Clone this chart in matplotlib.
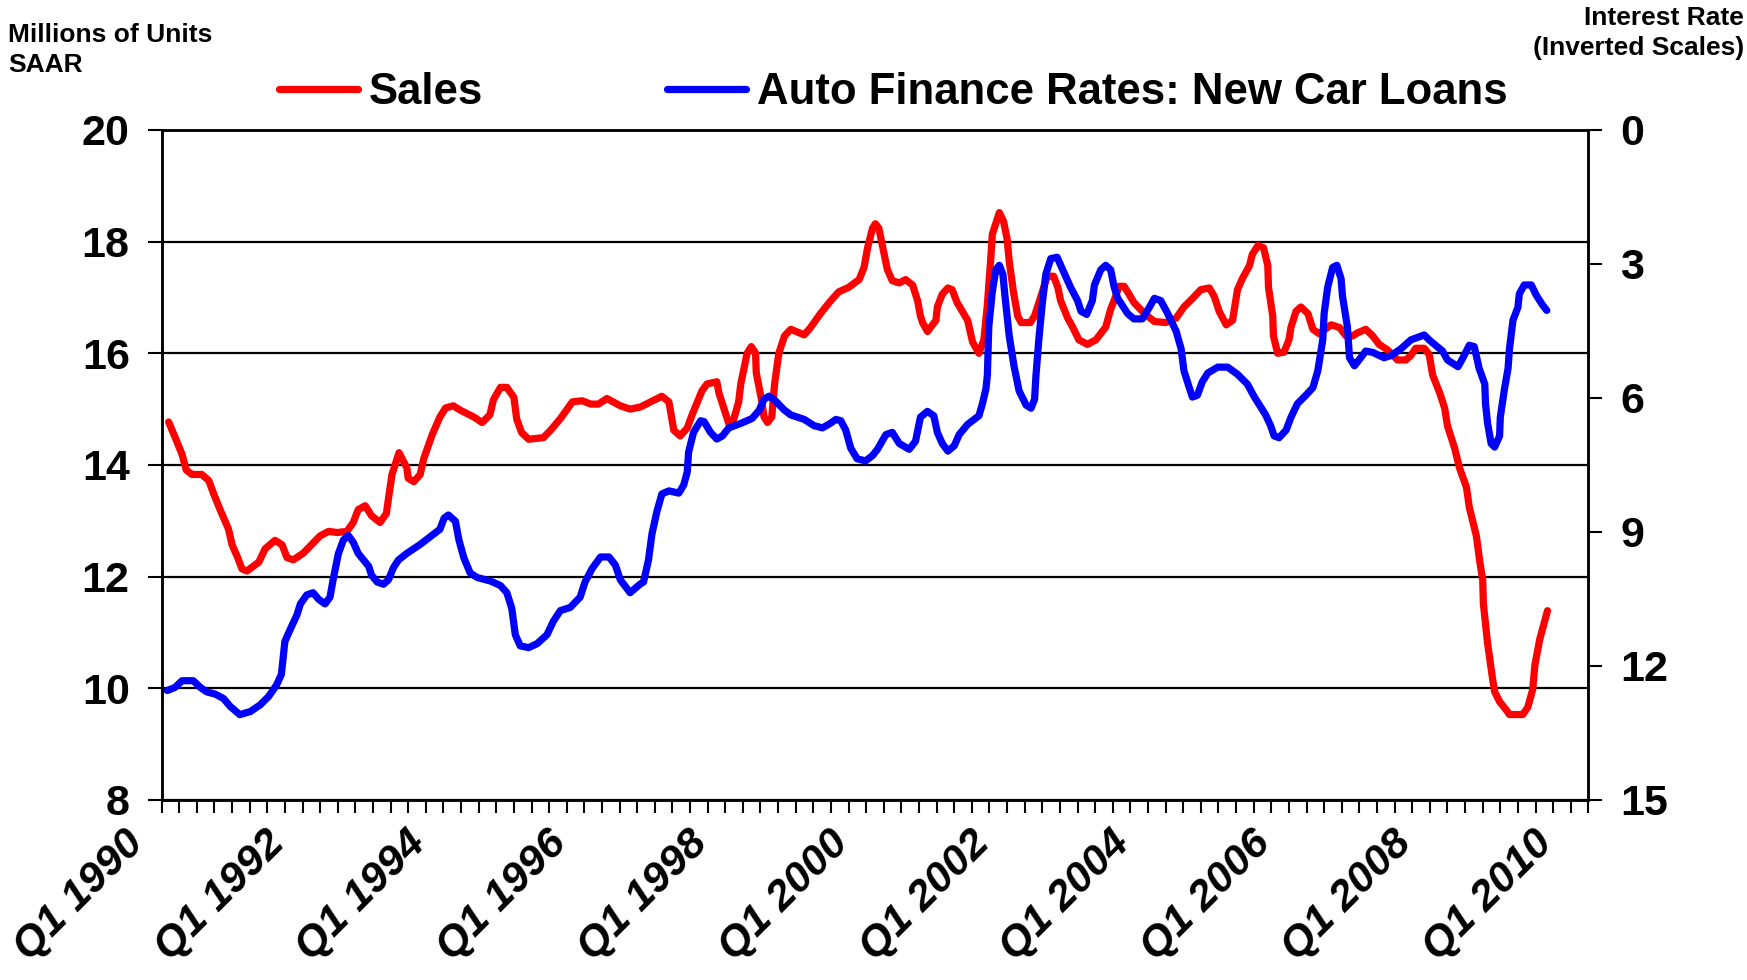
import matplotlib
matplotlib.use('Agg')
import matplotlib.pyplot as plt
import matplotlib.transforms as mtransforms
import numpy as np

plt.rcParams['font.family'] = ['Liberation Sans', 'DejaVu Sans']
plt.rcParams['font.weight'] = 'bold'

# ── Data ─────────────────────────────────────────────────────────────────────

# Light vehicle sales, millions of units SAAR (left scale)
sales_t = [
    1990.10, 1990.19, 1990.29, 1990.35, 1990.43, 1990.57, 1990.67, 1990.74, 1990.83, 1990.95,
    1991.00, 1991.08, 1991.14, 1991.21, 1991.38, 1991.47, 1991.61, 1991.71, 1991.78, 1991.87,
    1992.01, 1992.25, 1992.37, 1992.49, 1992.63, 1992.72, 1992.79, 1992.89, 1992.98, 1993.10,
    1993.19, 1993.22, 1993.27, 1993.37, 1993.48, 1993.50, 1993.58, 1993.67, 1993.72, 1993.84,
    1993.95, 1994.03, 1994.14, 1994.24, 1994.43, 1994.55, 1994.66, 1994.71, 1994.81, 1994.90,
    1995.00, 1995.04, 1995.11, 1995.21, 1995.42, 1995.52, 1995.66, 1995.83, 1995.97, 1996.09,
    1996.20, 1996.32, 1996.51, 1996.65, 1996.80, 1996.94, 1997.10, 1997.20, 1997.27, 1997.36,
    1997.46, 1997.53, 1997.67, 1997.74, 1997.88, 1997.91, 1998.03, 1998.05, 1998.12, 1998.19,
    1998.22, 1998.31, 1998.37, 1998.43, 1998.44, 1998.52, 1998.55, 1998.60, 1998.66, 1998.70,
    1998.76, 1998.84, 1998.93, 1999.12, 1999.21, 1999.35, 1999.49, 1999.61, 1999.75, 1999.90,
    1999.97, 2000.02, 2000.09, 2000.13, 2000.18, 2000.25, 2000.30, 2000.37, 2000.47, 2000.56,
    2000.66, 2000.73, 2000.77, 2000.80, 2000.87, 2000.99, 2001.01, 2001.08, 2001.16, 2001.22,
    2001.29, 2001.44, 2001.51, 2001.60, 2001.67, 2001.72, 2001.77, 2001.79, 2001.89, 2001.95,
    2002.00, 2002.03, 2002.09, 2002.15, 2002.20, 2002.33, 2002.39, 2002.48, 2002.57, 2002.66,
    2002.72, 2002.76, 2002.86, 2002.93, 2003.02, 2003.14, 2003.26, 2003.40, 2003.47, 2003.52,
    2003.59, 2003.66, 2003.73, 2003.80, 2003.95, 2004.09, 2004.25, 2004.40, 2004.51, 2004.63,
    2004.75, 2004.87, 2004.94, 2005.01, 2005.11, 2005.20, 2005.27, 2005.34, 2005.44, 2005.48,
    2005.56, 2005.64, 2005.70, 2005.71, 2005.77, 2005.78, 2005.84, 2005.93, 2006.00, 2006.03,
    2006.10, 2006.17, 2006.27, 2006.34, 2006.43, 2006.60, 2006.72, 2006.81, 2006.90, 2006.98,
    2007.09, 2007.19, 2007.28, 2007.40, 2007.54, 2007.66, 2007.73, 2007.80, 2007.92, 2007.99,
    2008.04, 2008.14, 2008.21, 2008.25, 2008.35, 2008.42, 2008.52, 2008.56, 2008.66, 2008.71,
    2008.75, 2008.76, 2008.82, 2008.89, 2008.92, 2008.99, 2009.08, 2009.13, 2009.32, 2009.39,
    2009.46, 2009.49, 2009.56, 2009.67,
]
sales_val = [
    14.77, 14.50, 14.19, 13.91, 13.83, 13.83, 13.72, 13.48, 13.20, 12.85,
    12.57, 12.34, 12.14, 12.10, 12.26, 12.50, 12.65, 12.57, 12.34, 12.30,
    12.42, 12.73, 12.81, 12.79, 12.81, 12.97, 13.20, 13.27, 13.09, 12.97,
    13.13, 13.40, 13.83, 14.22, 13.95, 13.76, 13.70, 13.83, 14.11, 14.54,
    14.86, 15.02, 15.06, 14.98, 14.86, 14.76, 14.90, 15.17, 15.39, 15.39,
    15.21, 14.82, 14.58, 14.46, 14.49, 14.62, 14.83, 15.13, 15.15, 15.09,
    15.09, 15.19, 15.06, 15.00, 15.04, 15.13, 15.23, 15.13, 14.62, 14.52,
    14.66, 14.90, 15.33, 15.45, 15.49, 15.29, 14.82, 14.74, 14.82, 15.13,
    15.45, 16.00, 16.12, 16.00, 15.65, 15.13, 14.86, 14.76, 14.86, 15.45,
    16.00, 16.31, 16.43, 16.33, 16.46, 16.71, 16.93, 17.10, 17.18, 17.32,
    17.54, 17.89, 18.24, 18.32, 18.24, 17.81, 17.50, 17.30, 17.26, 17.32,
    17.22, 16.94, 16.67, 16.55, 16.39, 16.59, 16.83, 17.06, 17.17, 17.14,
    16.91, 16.59, 16.20, 16.00, 16.24, 16.87, 17.73, 18.13, 18.52, 18.36,
    18.05, 17.65, 17.10, 16.67, 16.55, 16.55, 16.67, 17.02, 17.38, 17.38,
    17.18, 16.94, 16.63, 16.47, 16.24, 16.16, 16.24, 16.47, 16.79, 16.95,
    17.20, 17.20, 17.06, 16.91, 16.71, 16.57, 16.55, 16.63, 16.83, 16.98,
    17.14, 17.17, 17.02, 16.75, 16.51, 16.59, 17.14, 17.34, 17.57, 17.77,
    17.93, 17.89, 17.57, 17.18, 16.67, 16.31, 16.00, 16.02, 16.24, 16.47,
    16.75, 16.83, 16.71, 16.43, 16.35, 16.51, 16.46, 16.31, 16.31, 16.37,
    16.43, 16.31, 16.16, 16.06, 15.88, 15.88, 15.96, 16.09, 16.09, 15.98,
    15.61, 15.29, 15.02, 14.70, 14.31, 13.95, 13.60, 13.24, 12.73, 12.26,
    11.94, 11.51, 10.80, 10.17, 9.94, 9.76, 9.62, 9.53, 9.53, 9.66,
    9.98, 10.41, 10.88, 11.39,
]

# Auto finance rate on new car loans, % (right scale, inverted)
rate_t = [
    1990.08, 1990.19, 1990.29, 1990.45, 1990.55, 1990.64, 1990.76, 1990.88, 1990.97, 1991.11,
    1991.26, 1991.40, 1991.52, 1991.63, 1991.70, 1991.75, 1991.82, 1991.92, 1991.97, 1992.06,
    1992.15, 1992.23, 1992.32, 1992.39, 1992.44, 1992.51, 1992.58, 1992.65, 1992.72, 1992.79,
    1992.94, 1992.98, 1993.06, 1993.15, 1993.22, 1993.29, 1993.36, 1993.48, 1993.67, 1993.91,
    1993.95, 1994.01, 1994.07, 1994.17, 1994.22, 1994.29, 1994.38, 1994.48, 1994.67, 1994.81,
    1994.90, 1994.97, 1995.02, 1995.09, 1995.21, 1995.33, 1995.47, 1995.56, 1995.66, 1995.80,
    1995.94, 1996.01, 1996.11, 1996.23, 1996.35, 1996.44, 1996.51, 1996.65, 1996.79, 1996.84,
    1996.91, 1996.96, 1997.03, 1997.10, 1997.20, 1997.34, 1997.41, 1997.46, 1997.48, 1997.55,
    1997.65, 1997.70, 1997.79, 1997.88, 1997.96, 1998.05, 1998.22, 1998.38, 1998.48, 1998.55,
    1998.62, 1998.71, 1998.83, 1998.93, 1999.12, 1999.26, 1999.38, 1999.49, 1999.57, 1999.64,
    1999.71, 1999.78, 1999.87, 1999.99, 2000.09, 2000.16, 2000.28, 2000.37, 2000.47, 2000.61,
    2000.70, 2000.77, 2000.87, 2000.96, 2001.01, 2001.08, 2001.16, 2001.25, 2001.32, 2001.44,
    2001.60, 2001.65, 2001.70, 2001.72, 2001.74, 2001.79, 2001.84, 2001.89, 2001.94, 2001.97,
    2002.03, 2002.10, 2002.17, 2002.27, 2002.34, 2002.39, 2002.41, 2002.45, 2002.50, 2002.55,
    2002.62, 2002.71, 2002.79, 2002.90, 2003.00, 2003.05, 2003.13, 2003.21, 2003.24, 2003.33,
    2003.40, 2003.47, 2003.52, 2003.57, 2003.71, 2003.80, 2003.92, 2004.02, 2004.09, 2004.18,
    2004.28, 2004.40, 2004.47, 2004.51, 2004.58, 2004.63, 2004.70, 2004.77, 2004.85, 2004.99,
    2005.13, 2005.27, 2005.41, 2005.51, 2005.67, 2005.74, 2005.79, 2005.86, 2005.96, 2006.03,
    2006.12, 2006.24, 2006.34, 2006.41, 2006.48, 2006.50, 2006.55, 2006.62, 2006.68, 2006.74,
    2006.76, 2006.83, 2006.86, 2006.93, 2006.98, 2007.09, 2007.19, 2007.35, 2007.45, 2007.59,
    2007.73, 2007.92, 2007.99, 2008.18, 2008.25, 2008.40, 2008.47, 2008.56, 2008.63, 2008.70,
    2008.78, 2008.79, 2008.82, 2008.87, 2008.92, 2008.99, 2009.00, 2009.06, 2009.11, 2009.13,
    2009.18, 2009.25, 2009.27, 2009.34, 2009.44, 2009.51, 2009.60, 2009.66,
]
rate_val = [
    12.55, 12.48, 12.33, 12.33, 12.48, 12.58, 12.63, 12.73, 12.90, 13.09,
    13.02, 12.87, 12.68, 12.43, 12.19, 11.45, 11.20, 10.86, 10.61, 10.41,
    10.36, 10.51, 10.61, 10.46, 10.02, 9.48, 9.18, 9.08, 9.23, 9.48,
    9.77, 9.97, 10.12, 10.17, 10.07, 9.80, 9.63, 9.48, 9.28, 8.99,
    8.94, 8.69, 8.62, 8.76, 9.18, 9.58, 9.92, 10.02, 10.10, 10.20,
    10.36, 10.71, 11.30, 11.55, 11.59, 11.50, 11.30, 11.00, 10.76, 10.69,
    10.46, 10.12, 9.82, 9.56, 9.56, 9.74, 10.07, 10.36, 10.17, 10.12,
    9.63, 9.04, 8.54, 8.15, 8.08, 8.13, 7.95, 7.66, 7.21, 6.77,
    6.51, 6.53, 6.77, 6.92, 6.85, 6.67, 6.57, 6.46, 6.28, 6.03,
    5.96, 6.06, 6.26, 6.38, 6.48, 6.62, 6.67, 6.57, 6.48, 6.51,
    6.72, 7.12, 7.36, 7.41, 7.29, 7.15, 6.82, 6.77, 7.02, 7.15,
    6.97, 6.43, 6.30, 6.40, 6.77, 7.02, 7.19, 7.07, 6.82, 6.59,
    6.40, 6.13, 5.79, 5.49, 4.41, 3.62, 3.13, 3.03, 3.23, 3.72,
    4.61, 5.30, 5.84, 6.16, 6.23, 6.03, 5.49, 4.70, 3.87, 3.23,
    2.88, 2.85, 3.13, 3.52, 3.82, 4.06, 4.13, 3.82, 3.47, 3.13,
    3.03, 3.13, 3.52, 3.77, 4.11, 4.23, 4.23, 3.97, 3.77, 3.82,
    4.11, 4.51, 4.90, 5.39, 5.74, 5.98, 5.94, 5.64, 5.44, 5.31,
    5.31, 5.47, 5.69, 5.98, 6.38, 6.62, 6.85, 6.89, 6.72, 6.43,
    6.13, 5.94, 5.77, 5.39, 4.70, 4.11, 3.52, 3.08, 3.03, 3.33,
    3.72, 4.41, 5.10, 5.28, 5.18, 4.95, 4.98, 5.10, 5.05, 4.90,
    4.70, 4.59, 4.70, 4.95, 5.15, 5.30, 5.10, 4.82, 4.85, 5.34,
    5.69, 6.13, 6.57, 7.02, 7.10, 6.85, 6.43, 5.79, 5.34, 4.90,
    4.26, 3.97, 3.67, 3.47, 3.47, 3.70, 3.92, 4.04,
]

year_labels = [f'Q1 {y}' for y in range(1990, 2011, 2)]
sales_ticks = [8, 10, 12, 14, 16, 18, 20]
rate_ticks = [0, 3, 6, 9, 12, 15]

# ── Plot ──────────────────────────────────────────────────────────────────────

fig = plt.figure(figsize=(17.47, 9.8), dpi=100)
ax = fig.add_axes([0.0925, 0.1837, 0.8167, 0.6837])
ax2 = ax.twinx()

l1, = ax.plot(sales_t, sales_val, color='#ff0000', lw=5.2,
              solid_joinstyle='round', solid_capstyle='round', label='Sales')
l2, = ax2.plot(rate_t, rate_val, color='#0000ff', lw=5.2,
               solid_joinstyle='round', solid_capstyle='round',
               label='Auto Finance Rates: New Car Loans')

ax.set_xlim(1990, 2010.25)
ax.set_ylim(8, 20)
ax.set_yticks(sales_ticks)
ax.grid(axis='y', color='black', lw=1.6)
ax.set_axisbelow(True)

ax2.set_ylim(15, 0)
ax2.set_yticks(rate_ticks)

ax.set_xticks(np.arange(1990, 2010.01, 2))
ax.set_xticks(np.arange(1990, 2010.26, 0.25), minor=True)
ax.set_xticklabels(year_labels, rotation=45, ha='right', fontsize=31,
                   fontstyle='italic', fontweight='bold')

for a in (ax, ax2):
    for sp in a.spines.values():
        sp.set_color('black')
        sp.set_linewidth(1.8)
ax.tick_params(axis='x', which='both', direction='out', length=9, width=1.5, pad=8)
ax.tick_params(axis='y', direction='out', length=10, width=1.5, pad=13, labelsize=31)
ax2.tick_params(axis='y', direction='out', length=10, width=1.5, pad=13, labelsize=31)

shift = mtransforms.ScaledTranslation(-10 / 100, 0, fig.dpi_scale_trans)
for lab in ax.get_xticklabels():
    lab.set_transform(lab.get_transform() + shift)

fig.legend(handles=[l1, l2], loc='center left',
           bbox_to_anchor=(279 / 1747, 1 - 93 / 980), ncol=2, frameon=False,
           handlelength=1.8, handletextpad=0.26, columnspacing=4.2,
           borderpad=0, borderaxespad=0,
           prop={'size': 31.5, 'weight': 'bold'})

fig.text(8 / 1747, 1 - 23 / 980, 'Millions of Units\nSAAR', ha='left', va='top',
         fontsize=19, fontweight='bold', linespacing=1.32)
fig.text(1744 / 1747, 1 - 6 / 980, 'Interest Rate\n(Inverted Scales)', ha='right',
         va='top', multialignment='right', fontsize=19, fontweight='bold',
         linespacing=1.32)

fig.savefig('out.png', dpi=100)
